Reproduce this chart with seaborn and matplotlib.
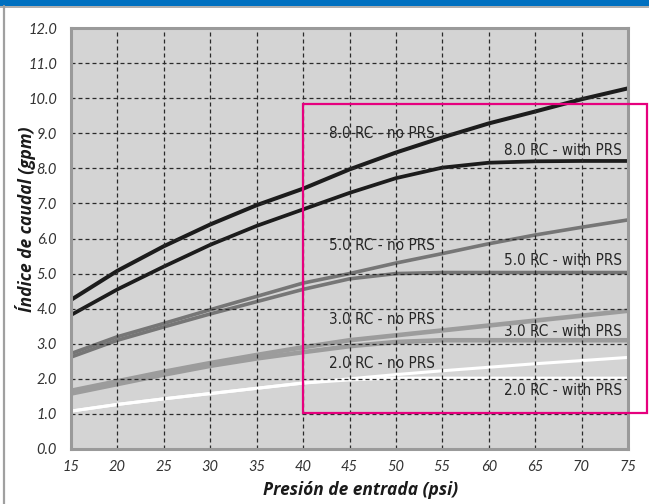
import matplotlib
matplotlib.use("Agg")
import matplotlib.pyplot as plt
import seaborn as sns
import pandas as pd
from matplotlib.patches import Rectangle
from matplotlib.lines import Line2D

pressure = [15, 20, 25, 30, 35, 40, 45, 50, 55, 60, 65, 70, 75]

rc8_no = [4.25, 5.08, 5.78, 6.40, 6.95, 7.42, 7.97, 8.45, 8.88, 9.28, 9.62, 9.97, 10.28]
rc8_with = [3.82, 4.55, 5.20, 5.82, 6.36, 6.83, 7.30, 7.72, 8.02, 8.16, 8.20, 8.21, 8.21]
rc5_no = [2.72, 3.20, 3.58, 3.97, 4.35, 4.73, 5.00, 5.30, 5.57, 5.85, 6.10, 6.32, 6.53]
rc5_with = [2.62, 3.10, 3.48, 3.85, 4.20, 4.55, 4.85, 5.00, 5.03, 5.03, 5.03, 5.03, 5.03]
rc3_no = [1.66, 1.93, 2.20, 2.45, 2.68, 2.90, 3.10, 3.24, 3.38, 3.52, 3.66, 3.80, 3.94]
rc3_with = [1.58, 1.85, 2.12, 2.37, 2.58, 2.76, 2.93, 3.05, 3.10, 3.10, 3.10, 3.10, 3.10]
rc2_no = [1.08, 1.27, 1.43, 1.58, 1.73, 1.88, 2.00, 2.12, 2.23, 2.33, 2.43, 2.52, 2.61]
rc2_with = [1.08, 1.27, 1.43, 1.58, 1.73, 1.88, 1.97, 2.02, 2.02, 2.02, 2.02, 2.02, 2.02]

labels_no = ["8.0 RC - no PRS", "5.0 RC - no PRS", "3.0 RC - no PRS", "2.0 RC - no PRS"]
labels_with = ["8.0 RC - with PRS", "5.0 RC - with PRS", "3.0 RC - with PRS", "2.0 RC - with PRS"]
label_no_y = [9.0, 5.79, 3.68, 2.45]
label_with_y = [8.52, 5.36, 3.34, 1.68]

x_ticks = [15, 20, 25, 30, 35, 40, 45, 50, 55, 60, 65, 70, 75]
y_ticks = [0, 1, 2, 3, 4, 5, 6, 7, 8, 9, 10, 11, 12]
xlabel = "Presión de entrada (psi)"
ylabel = "Índice de caudal (gpm)"

sns.set_theme(style="white")
plt.rcParams['font.family'] = ['Lato', 'DejaVu Sans']

fig = plt.figure(figsize=(6.49, 5.04), dpi=100)
ax = fig.add_axes([71/649, 1-449/504, (628-71)/649, (449-28)/504])
ax.set_facecolor("#d4d4d4")

series = [
    (rc2_with, "#ffffff", 2.2),
    (rc2_no, "#ffffff", 2.2),
    (rc3_with, "#9c9c9c", 3.3),
    (rc3_no, "#9c9c9c", 3.3),
    (rc5_with, "#767676", 2.6),
    (rc5_no, "#767676", 2.6),
    (rc8_with, "#1c1c1c", 2.7),
    (rc8_no, "#1c1c1c", 2.9),
]
for vals, col, lw in series:
    df = pd.DataFrame({"p": pressure, "q": vals})
    sns.lineplot(data=df, x="p", y="q", color=col, linewidth=lw, ax=ax,
                 solid_capstyle="butt", zorder=2)

ax.set_xlim(15, 75)
ax.set_ylim(0, 12)
ax.set_xticks(x_ticks)
ax.set_yticks(y_ticks)
ax.set_xticklabels([str(v) for v in x_ticks], fontstyle="italic", fontsize=10.5, color="#333333")
ax.set_yticklabels([f"{v:.1f}" for v in y_ticks], fontstyle="italic", fontsize=10.5, color="#333333")
ax.tick_params(axis="both", length=0)
ax.tick_params(axis="y", pad=10)
ax.tick_params(axis="x", pad=8)

ax.grid(True, color="#2a2a2a", linewidth=0.9, linestyle=(0, (3.2, 2.4)))
ax.set_axisbelow(False)

for s in ax.spines.values():
    s.set_color("#9a9a9a")
    s.set_linewidth(2.2)
    s.set_zorder(4)

lab_font = ['Open Sans', 'DejaVu Sans']
ax.set_xlabel(xlabel, fontsize=12.5, fontweight="bold", fontstyle="italic", color="#1a1a1a", family=lab_font)
ax.set_ylabel(ylabel, fontsize=12.5, fontweight="bold", fontstyle="italic", color="#1a1a1a", family=lab_font)
ax.xaxis.set_label_coords(0.52, -0.077)
ax.yaxis.set_label_coords(-0.063, 0.545)

for t, y in zip(labels_no, label_no_y):
    ax.text(42.8, y, t, ha="left", va="center", fontsize=11, color="#262626",
            family="DejaVu Sans", fontstretch="condensed", zorder=1.5)
for t, y in zip(labels_with, label_with_y):
    ax.text(74.3, y, t, ha="right", va="center", fontsize=11, color="#262626",
            family="DejaVu Sans", fontstretch="condensed", zorder=1.5)

rect = Rectangle((40, 1.03), 77.1 - 40, 9.83 - 1.03, fill=False,
                 edgecolor="#e6007e", linewidth=1.6, clip_on=False, zorder=5)
ax.add_patch(rect)

# figure frame decorations
fig.patches.append(Rectangle((0, 1-6/504), 1, 6/504, transform=fig.transFigure,
                             facecolor="#0070c0", edgecolor="none", zorder=0))
fig.lines.append(Line2D([0, 1], [1-6.5/504, 1-6.5/504], transform=fig.transFigure,
                        color="#a0a0a0", linewidth=1.2))
fig.lines.append(Line2D([4/649, 4/649], [0, 1-6/504], transform=fig.transFigure,
                        color="#a0a0a0", linewidth=1.6))

fig.savefig("out.png", dpi=100)
